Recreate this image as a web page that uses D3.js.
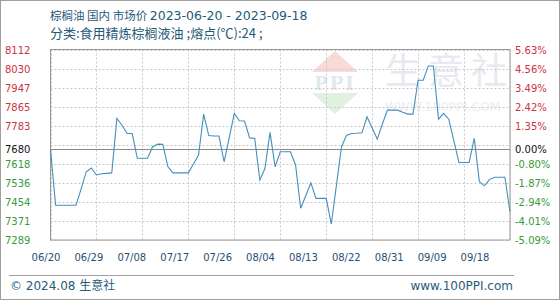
<!DOCTYPE html>
<html>
<head>
<meta charset="utf-8">
<script src="https://cdn.jsdelivr.net/npm/d3@7"></script>
<style>
body { margin: 0; background: #fff; }
svg { display: block; }
</style>
</head>
<body>
<div id="chart"></div>
<script>
const width = 560;
const height = 300;

// daily prices, 06/20 .. 09/18
const prices = [
	7680, 7439, 7439, 7439, 7439, 7439, 7510, 7584, 7600, 7570,
	7575, 7577, 7579, 7814, 7785, 7749, 7749, 7642, 7642, 7642,
	7692, 7703, 7702, 7605, 7579, 7579, 7579, 7579, 7617, 7656,
	7833, 7740, 7738, 7738, 7627, 7730, 7836, 7804, 7803, 7730,
	7728, 7548, 7598, 7754, 7605, 7670, 7670, 7670, 7613, 7426,
	7480, 7536, 7469, 7469, 7469, 7358, 7525, 7692, 7742, 7749,
	7750, 7752, 7821, 7773, 7725, 7790, 7850, 7850, 7850, 7841,
	7833, 7833, 7979, 7979, 8041, 8041, 7811, 7836, 7811, 7718,
	7624, 7624, 7624, 7728, 7541, 7523, 7551, 7560, 7560, 7560,
	7411
];
const dateLabels = ["06/20", "06/29", "07/08", "07/17", "07/26", "08/04", "08/13", "08/22", "08/31", "09/09", "09/18"];
const leftTicks = [8112, 8030, 7947, 7865, 7783, 7680, 7618, 7536, 7454, 7371, 7289];
const rightTicks = ["5.63%", "4.56%", "3.49%", "2.42%", "1.35%", "0.00%", "-0.80%", "-1.87%", "-2.94%", "-4.01%", "-5.09%"];
const basePrice = 7680;
const yMin = 7289, yMax = 8112;

const plot = {left: 50.5, right: 510, top: 49.5, bottom: 240};

const svg = d3.select("#chart")
	.append("svg")
	.attr("width", width)
	.attr("height", height);

svg.append("rect")
	.attr("x", 0.5).attr("y", 0.5)
	.attr("width", width - 1).attr("height", height - 1)
	.attr("fill", "#fff")
	.attr("stroke", "#a0a0a0");

const x = d3.scaleLinear()
	.domain([0, prices.length - 1])
	.range([plot.left, plot.right]);

const y = d3.scaleLinear()
	.domain([yMin, yMax])
	.range([plot.bottom, plot.top]);

// watermark
const wm = svg.append("g").attr("opacity", 0.5);
wm.append("path")
	.attr("d", "M335,51 L358,72 L312,72 Z")
	.attr("fill", "#f2b8b0");
wm.append("text")
	.attr("x", 335).attr("y", 90)
	.attr("text-anchor", "middle")
	.attr("font-family", "DejaVu Serif")
	.attr("font-size", 18)
	.attr("font-weight", "bold")
	.attr("letter-spacing", 2)
	.attr("fill", "#c4d2e4")
	.text("PPI");
wm.append("path")
	.attr("d", "M312,93 L358,93 L335,114 Z")
	.attr("fill", "#c4e4c4");
wm.append("text")
	.attr("x", 385).attr("y", 84)
	.attr("font-family", "Noto Sans CJK SC")
	.attr("font-size", 36)
	.attr("letter-spacing", 7)
	.attr("fill", "#d0d5e2")
	.text("生意社");
wm.append("text")
	.attr("x", 385).attr("y", 111)
	.attr("font-family", "DejaVu Sans")
	.attr("font-size", 12.5)
	.attr("fill", "#d8dce4")
	.text("WWW.100PPI.COM");

// grid
const grid = svg.append("g");
d3.range(11).forEach(i => {
	const gy = Math.round(plot.top + (plot.bottom - plot.top) * i / 10) + 0.5;
	grid.append("line")
		.attr("x1", plot.left).attr("x2", plot.right)
		.attr("y1", gy).attr("y2", gy)
		.attr("stroke", "#c8c8c8")
		.attr("stroke-dasharray", "2,2");
	const gx = Math.round(plot.left + (plot.right - plot.left) * i / 10) + 0.5;
	grid.append("line")
		.attr("x1", gx).attr("x2", gx)
		.attr("y1", plot.top).attr("y2", plot.bottom)
		.attr("stroke", "#c8c8c8")
		.attr("stroke-dasharray", "2,2");
});

svg.append("rect")
	.attr("x", plot.left).attr("y", plot.top)
	.attr("width", plot.right - plot.left)
	.attr("height", plot.bottom - plot.top)
	.attr("fill", "none")
	.attr("stroke", "#999");

svg.append("line")
	.attr("x1", plot.left).attr("x2", plot.right)
	.attr("y1", Math.round(y(basePrice)) + 0.5).attr("y2", Math.round(y(basePrice)) + 0.5)
	.attr("stroke", "#8a8a8a");

// line
const line = d3.line()
	.x((d, i) => x(i))
	.y(d => y(d));

svg.append("path")
	.datum(prices)
	.attr("d", line)
	.attr("fill", "none")
	.attr("stroke", "#4390bb")
	.attr("stroke-width", 1.1);

// y labels
const tickColor = i => i < 5 ? "#cc3340" : (i === 5 ? "#111" : "#3a9a3a");
const tickY = i => i === 5 ? y(basePrice) : plot.top + (plot.bottom - plot.top) * i / 10;

svg.append("g").selectAll("text")
	.data(leftTicks)
	.join("text")
	.attr("x", 5)
	.attr("y", (d, i) => tickY(i) + 4)
	.attr("font-family", "DejaVu Sans")
	.attr("font-size", 10)
	.attr("fill", (d, i) => tickColor(i))
	.text(d => d);

svg.append("g").selectAll("text")
	.data(rightTicks)
	.join("text")
	.attr("x", 515)
	.attr("y", (d, i) => tickY(i) + 4)
	.attr("font-family", "DejaVu Sans")
	.attr("font-size", 10)
	.attr("fill", (d, i) => tickColor(i))
	.text(d => d);

// x labels
const xl = d3.scalePoint()
	.domain(dateLabels)
	.range([46, 475]);

svg.append("g").selectAll("text")
	.data(dateLabels)
	.join("text")
	.attr("x", d => xl(d))
	.attr("y", 261)
	.attr("text-anchor", "middle")
	.attr("font-family", "DejaVu Sans")
	.attr("font-size", 10)
	.attr("fill", "#1f4f75")
	.text(d => d);

// titles
const title = svg.append("text")
	.attr("x", 50).attr("y", 20)
	.attr("fill", "#1f5a7a");
title.append("tspan")
	.attr("font-family", "Noto Sans CJK SC")
	.attr("font-size", 11.5)
	.text("棕榈油 国内 市场价 ");
title.append("tspan")
	.attr("font-family", "DejaVu Sans")
	.attr("font-size", 12.5)
	.text("2023-06-20 - 2023-09-18");

svg.append("text")
	.attr("x", 50).attr("y", 38)
	.attr("font-family", "Noto Sans CJK SC")
	.attr("font-size", 13)
	.attr("fill", "#1f5a7a")
	.text("分类:食用精炼棕榈液油 ;熔点(℃):24 ;");

// footer
svg.append("line")
	.attr("x1", 9).attr("x2", 514)
	.attr("y1", 275.5).attr("y2", 275.5)
	.attr("stroke", "#a0a0a0");
svg.append("text")
	.attr("x", 10).attr("y", 290)
	.attr("font-family", "DejaVu Sans, Noto Sans CJK SC")
	.attr("font-size", 12)
	.attr("fill", "#2a5a7a")
	.text("© 2024.08 生意社");
svg.append("text")
	.attr("x", 513).attr("y", 290)
	.attr("text-anchor", "end")
	.attr("font-family", "DejaVu Sans")
	.attr("font-size", 12)
	.attr("fill", "#2a5a7a")
	.text("www.100PPI.com");
</script>
</body>
</html>
